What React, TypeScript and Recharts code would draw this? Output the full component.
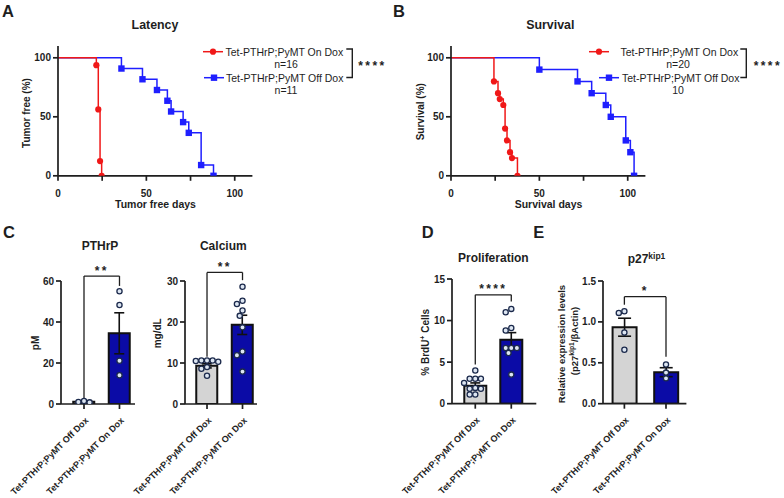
import React from 'react';
import {
  ComposedChart, LineChart, Line, Bar, Cell, Scatter, XAxis, YAxis, ErrorBar, ReferenceLine,
} from 'recharts';

const FONT = '"Liberation Sans", Arial, Helvetica, sans-serif';
const INK = '#1e1e1e';
const RED = '#f01818';
const BLUE = '#1f1fff';
const NAVY = '#0b0ba6';
const GRAY = '#d4d4d4';
const DOT_FILL = '#dde6f2';
const DOT_STROKE = '#1c2a4c';

// ---- A: Latency (% tumor free vs days) ----
const latencyOnDays = [0, 21.7, 22.8, 23.8, 24.7];
const latencyOnPct = [100, 93.75, 56.25, 12.5, 0];
const latencyOffDays = [0, 35.9, 47.8, 56, 61.9, 64, 70.8, 74, 81, 88];
const latencyOffPct = [100, 90.9, 81.8, 72.7, 63.6, 54.5, 45.5, 36.4, 9.1, 0];
const latencyN = ['n=16', 'n=11'];

// ---- B: Survival (% vs days) ----
const survivalOnDays = [0, 24.3, 26.6, 27.6, 29.6, 30.6, 31.7, 33.4, 34.5, 37.6];
const survivalOnPct = [100, 80, 70, 65, 60, 40, 30, 20, 15, 0];
const survivalOffDays = [0, 50, 71.6, 79.6, 87.6, 90.4, 98.9, 101.5, 103.6];
const survivalOffPct = [100, 90, 80, 70, 60, 50, 30, 20, 0];
const survivalN = ['n=20', '10'];

const kmSeries = ['Tet-PTHrP;PyMT On Dox', 'Tet-PTHrP;PyMT Off Dox'];
const kmXTicks = [0, 25, 50, 75, 100];
const kmYTicks = [0, 50, 100];

// ---- C, D, E: bar groups ----
const groups = ['Tet-PTHrP;PyMT Off Dox', 'Tet-PTHrP;PyMT On Dox'];

const pthrpMean = [1.1, 34.5];
const pthrpSem = [0.2, 10.0];
const pthrpOff = [0.8, 1.5, 1.0];
const pthrpOn = [55.0, 48.3, 21.1, 14.0];

const calciumMean = [9.3, 19.3];
const calciumSem = [0.5, 2.35];
const calciumOff = [10.6, 10.5, 10.6, 10.6, 10.3, 9.0, 8.6, 6.9];
const calciumOn = [28.6, 24.4, 25.2, 22.8, 21.5, 18.7, 12.8, 11.9, 7.9];

const brduMean = [2.15, 7.7];
const brduSem = [0.35, 0.85];
const brduOff = [4.0, 3.0, 3.0, 3.0, 2.5, 1.9, 1.8, 1.8, 1.1, 1.1];
const brduOn = [11.4, 11.0, 9.1, 8.8, 6.7, 6.7, 6.7, 6.1, 3.5];

const p27Mean = [0.935, 0.385];
const p27Sem = [0.11, 0.055];
const p27Off = [1.11, 1.13, 0.87, 0.66];
const p27On = [0.48, 0.38, 0.31];

type Box = { l: number; t: number; r: number; b: number };

function swarm(values: number[], pxPerUnit: number, d: number): number[] {
  const idx = values.map((_, i) => i).sort((a, b) => values[b] - values[a]);
  const placed: { x: number; y: number }[] = [];
  const out = values.map(() => 0);
  idx.forEach((i) => {
    const y = values[i] * pxPerUnit;
    for (let k = 0; k < 80; k++) {
      const step = Math.ceil(k / 2) * d * 0.5;
      const x = k === 0 ? 0 : k % 2 === 1 ? -step : step;
      if (placed.every((p) => Math.hypot(p.x - x, p.y - y) >= d - 0.01)) {
        placed.push({ x, y });
        out[i] = x;
        return;
      }
    }
  });
  return out;
}

const axisStyle = { stroke: INK, strokeWidth: 1.7 };

const CatTick = (p: any) => (
  <text
    transform={`translate(${p.x + 5},${p.y + 10}) rotate(-45)`}
    textAnchor="end"
    fontSize={9}
    fontWeight="bold"
    fontFamily={FONT}
    fill={INK}
  >
    {groups[Math.round(p.payload.value) - 1]}
  </text>
);

type BarPanelProps = {
  box: Box;
  xDomain: [number, number];
  yMax: number;
  yTicks: number[];
  decimals: number;
  means: number[];
  sems: number[];
  pts: number[][];
  barSize: number;
  cap: number;
  sig: string;
  br: { lb: number; rb: number; top: number };
};

function BarPanel(props: BarPanelProps) {
  const { box, xDomain, yMax, yTicks, decimals, means, sems, pts, barSize, cap, sig, br } = props;
  const YW = 64, MT = 30, MR = 8, XH = 94;
  const pw = box.r - box.l;
  const ph = box.b - box.t;
  const pxY = ph / yMax;
  const pxX = pw / (xDomain[1] - xDomain[0]);
  const barData = means.map((m, i) => ({ x: i + 1, mean: m, sem: sems[i] }));
  const dotData = pts.flatMap((vals, g) => {
    const off = swarm(vals, pxY, 5.6);
    return vals.map((v, j) => ({ x: g + 1 + off[j] / pxX, y: v }));
  });
  return (
    <div style={{ position: 'absolute', left: box.l - YW, top: box.t - MT }}>
      <ComposedChart
        width={YW + pw + MR}
        height={MT + ph + XH}
        data={barData}
        margin={{ top: MT, right: MR, left: 0, bottom: 0 }}
      >
        <XAxis
          xAxisId="cat"
          type="number"
          dataKey="x"
          domain={xDomain}
          allowDataOverflow
          ticks={[1, 2]}
          interval={0}
          tick={CatTick}
          tickSize={5}
          height={XH}
          axisLine={axisStyle}
          tickLine={axisStyle}
        />
        <XAxis xAxisId="dots" type="number" dataKey="x" domain={xDomain} allowDataOverflow hide />
        <YAxis
          type="number"
          domain={[0, yMax]}
          allowDataOverflow
          ticks={yTicks}
          interval={0}
          width={YW}
          tickSize={5}
          tickFormatter={(v: number) => v.toFixed(decimals)}
          tick={{ fontSize: 10, fontWeight: 'bold', fill: INK, fontFamily: FONT }}
          axisLine={axisStyle}
          tickLine={axisStyle}
        />
        <Bar xAxisId="cat" dataKey="mean" barSize={barSize} stroke="#111" strokeWidth={2} isAnimationActive={false}>
          {barData.map((_, i) => (
            <Cell key={i} fill={i === 0 ? GRAY : NAVY} />
          ))}
          <ErrorBar dataKey="sem" width={cap} stroke="#111" strokeWidth={1.6} direction="y" />
        </Bar>
        <Scatter
          xAxisId="dots"
          data={dotData}
          dataKey="y"
          isAnimationActive={false}
          shape={(p: any) => (
            <circle cx={p.cx} cy={p.cy} r={2.6} fill={DOT_FILL} stroke={DOT_STROKE} strokeWidth={1.3} />
          )}
        />
        <ReferenceLine xAxisId="cat" segment={[{ x: 1, y: br.lb }, { x: 1, y: br.top }]} stroke={INK} strokeWidth={1.3} ifOverflow="visible" />
        <ReferenceLine xAxisId="cat" segment={[{ x: 2, y: br.rb }, { x: 2, y: br.top }]} stroke={INK} strokeWidth={1.3} ifOverflow="visible" />
        <ReferenceLine
          xAxisId="cat"
          segment={[{ x: 1, y: br.top }, { x: 2, y: br.top }]}
          stroke={INK}
          strokeWidth={1.3}
          ifOverflow="visible"
          label={(p: any) => {
            const vb = p.viewBox || { x: 0, y: 0, width: 0 };
            return (
              <text
                x={vb.x + vb.width / 2}
                y={vb.y - 1.5}
                textAnchor="middle"
                fontSize={12}
                fontWeight="bold"
                fontFamily={FONT}
                fill={INK}
                letterSpacing={2.4}
              >
                {sig}
              </text>
            );
          }}
        />
      </ComposedChart>
    </div>
  );
}

const KMTick = (p: any) => {
  const v = p.payload.value;
  if (v % 50 !== 0) return <g />;
  return (
    <text x={p.x} y={p.y + 14} textAnchor="middle" fontSize={10} fontWeight="bold" fontFamily={FONT} fill={INK}>
      {v}
    </text>
  );
};

const redDot = (p: any) =>
  p.index === 0 ? <g key={`r${p.index}`} /> : <circle key={`r${p.index}`} cx={p.cx} cy={p.cy} r={3.1} fill={RED} />;
const blueDot = (p: any) =>
  p.index === 0 ? (
    <g key={`b${p.index}`} />
  ) : (
    <rect key={`b${p.index}`} x={p.cx - 3.2} y={p.cy - 3.2} width={6.4} height={6.4} fill={BLUE} />
  );

function KMPanel({ box, onX, onY, offX, offY }: { box: Box; onX: number[]; onY: number[]; offX: number[]; offY: number[] }) {
  const YW = 45, MT = 10, MR = 10, XH = 30;
  const pw = box.r - box.l;
  const ph = box.b - box.t;
  const onData = onX.map((x, i) => ({ x, y: onY[i] }));
  const offData = offX.map((x, i) => ({ x, y: offY[i] }));
  return (
    <div style={{ position: 'absolute', left: box.l - YW, top: box.t - MT }}>
      <LineChart width={YW + pw + MR} height={MT + ph + XH} margin={{ top: MT, right: MR, left: 0, bottom: 0 }}>
        <XAxis
          type="number"
          dataKey="x"
          domain={[0, 110]}
          allowDataOverflow
          ticks={kmXTicks}
          interval={0}
          tick={KMTick}
          tickSize={5}
          height={XH}
          axisLine={axisStyle}
          tickLine={axisStyle}
        />
        <YAxis
          type="number"
          domain={[0, 110]}
          allowDataOverflow
          ticks={kmYTicks}
          interval={0}
          width={YW}
          tickSize={5}
          tick={{ fontSize: 10, fontWeight: 'bold', fill: INK, fontFamily: FONT }}
          axisLine={axisStyle}
          tickLine={axisStyle}
        />
        <Line data={offData} dataKey="y" type="stepAfter" stroke={BLUE} strokeWidth={1.5} dot={blueDot} activeDot={false} isAnimationActive={false} />
        <Line data={onData} dataKey="y" type="stepAfter" stroke={RED} strokeWidth={1.5} dot={redDot} activeDot={false} isAnimationActive={false} />
      </LineChart>
    </div>
  );
}

function KMLegend({ x0, x1, names, ns, textX0, textX1, nX, brX, starX }: any) {
  return (
    <g>
      <line x1={x0} x2={x0 + 20} y1={51.7} y2={51.7} stroke={RED} strokeWidth={1.5} />
      <circle cx={x0 + 10} cy={51.7} r={3.1} fill={RED} />
      <text x={textX0} y={55.5} fontSize={10.5} fontFamily={FONT} fill={INK}>{names[0]}</text>
      <text x={nX} y={67.8} fontSize={10.5} fontFamily={FONT} fill={INK} textAnchor="middle">{ns[0]}</text>
      <line x1={x1} x2={x1 + 20} y1={77.7} y2={77.7} stroke={BLUE} strokeWidth={1.5} />
      <rect x={x1 + 10 - 3.2} y={77.7 - 3.2} width={6.4} height={6.4} fill={BLUE} />
      <text x={textX1} y={81.5} fontSize={10.5} fontFamily={FONT} fill={INK}>{names[1]}</text>
      <text x={nX} y={93.8} fontSize={10.5} fontFamily={FONT} fill={INK} textAnchor="middle">{ns[1]}</text>
      <path d={`M${brX - 6} 49 H${brX} V77.5 H${brX - 6}`} fill="none" stroke={INK} strokeWidth={1.4} />
      <text x={starX} y={70} fontSize={12} fontWeight="bold" fontFamily={FONT} fill={INK} letterSpacing={2.4}>****</text>
    </g>
  );
}

function Overlay() {
  const b = { fontFamily: FONT, fill: INK, fontWeight: 'bold' as const };
  return (
    <svg width={784} height={498} style={{ position: 'absolute', left: 0, top: 0, pointerEvents: 'none' }}>
      <text x={2} y={16.7} fontSize={16.5} {...b}>A</text>
      <text x={393} y={16.7} fontSize={16.5} {...b}>B</text>
      <text x={3} y={238.3} fontSize={16.5} {...b}>C</text>
      <text x={421.7} y={238.3} fontSize={16.5} {...b}>D</text>
      <text x={533.3} y={238.3} fontSize={16.5} {...b}>E</text>

      <text x={155} y={29} fontSize={12.4} textAnchor="middle" {...b}>Latency</text>
      <text x={550.3} y={29} fontSize={12.4} textAnchor="middle" {...b}>Survival</text>
      <text x={100} y={249.5} fontSize={12} textAnchor="middle" {...b}>PTHrP</text>
      <text x={223.3} y={249.5} fontSize={12} textAnchor="middle" {...b}>Calcium</text>
      <text x={493.3} y={262} fontSize={12} textAnchor="middle" {...b}>Proliferation</text>
      <text x={646.5} y={263} fontSize={12} textAnchor="middle" {...b}>
        p27<tspan fontSize={8.5} dy={-4.5}>kip1</tspan>
      </text>

      <text transform="translate(30,113) rotate(-90)" fontSize={10} textAnchor="middle" {...b}>Tumor free (%)</text>
      <text x={155.5} y={207.6} fontSize={10.5} textAnchor="middle" {...b}>Tumor free days</text>
      <text transform="translate(423.5,111.7) rotate(-90)" fontSize={10} textAnchor="middle" {...b}>Survival (%)</text>
      <text x={548.5} y={207.6} fontSize={10.5} textAnchor="middle" {...b}>Survival days</text>
      <text transform="translate(38.8,343) rotate(-90)" fontSize={10} textAnchor="middle" {...b}>pM</text>
      <text transform="translate(161,333.3) rotate(-90)" fontSize={10} textAnchor="middle" {...b}>mg/dL</text>
      <text transform="translate(429,342.3) rotate(-90)" fontSize={10} textAnchor="middle" {...b}>
        % BrdU<tspan fontSize={7} dy={-4}>+</tspan><tspan dy={4}> Cells</tspan>
      </text>
      <text transform="translate(564.5,344) rotate(-90)" fontSize={9.5} textAnchor="middle" {...b}>Relative expression levels</text>
      <text transform="translate(578,341) rotate(-90)" fontSize={9.5} textAnchor="middle" {...b}>
        (p27<tspan fontSize={6.8} dy={-3.6}>kip1</tspan><tspan dy={3.6}>/βActin)</tspan>
      </text>

      <KMLegend x0={203} x1={204} names={kmSeries} ns={latencyN} textX0={225.5} textX1={226} nX={286} brX={352.3} starX={358.3} />
      <KMLegend x0={589} x1={599} names={kmSeries} ns={survivalN} textX0={620.5} textX1={622} nX={678} brX={746.3} starX={753.7} />
    </svg>
  );
}

export default function App() {
  return (
    <div style={{ position: 'absolute', left: 0, top: 0, width: 784, height: 498, background: '#fff', overflow: 'hidden', fontFamily: FONT }}>
      <KMPanel box={{ l: 58.3, t: 45.9, r: 252.7, b: 175.7 }} onX={latencyOnDays} onY={latencyOnPct} offX={latencyOffDays} offY={latencyOffPct} />
      <KMPanel box={{ l: 451.3, t: 45.9, r: 645.7, b: 175.7 }} onX={survivalOnDays} onY={survivalOnPct} offX={survivalOffDays} offY={survivalOffPct} />
      <BarPanel
        box={{ l: 61, t: 281, r: 135, b: 404 }}
        xDomain={[0.352, 2.437]}
        yMax={60}
        yTicks={[0, 20, 40, 60]}
        decimals={0}
        means={pthrpMean}
        sems={pthrpSem}
        pts={[pthrpOff, pthrpOn]}
        barSize={21}
        cap={5}
        sig="**"
        br={{ lb: 1.8, rb: 57.6, top: 62.4 }}
      />
      <BarPanel
        box={{ l: 185, t: 281, r: 257, b: 404 }}
        xDomain={[0.38, 2.408]}
        yMax={30}
        yTicks={[0, 10, 20, 30]}
        decimals={0}
        means={calciumMean}
        sems={calciumSem}
        pts={[calciumOff, calciumOn]}
        barSize={21}
        cap={5}
        sig="**"
        br={{ lb: 11.5, rb: 30.2, top: 32.1 }}
      />
      <BarPanel
        box={{ l: 451.7, t: 279.3, r: 536, b: 404 }}
        xDomain={[0.353, 2.695]}
        yMax={15}
        yTicks={[0, 5, 10, 15]}
        decimals={0}
        means={brduMean}
        sems={brduSem}
        pts={[brduOff, brduOn]}
        barSize={22}
        cap={5}
        sig="****"
        br={{ lb: 4.7, rb: 12.3, top: 13.1 }}
      />
      <BarPanel
        box={{ l: 603.3, t: 281, r: 686.7, b: 403.7 }}
        xDomain={[0.486, 2.49]}
        yMax={1.5}
        yTicks={[0, 0.5, 1.0, 1.5]}
        decimals={1}
        means={p27Mean}
        sems={p27Sem}
        pts={[p27Off, p27On]}
        barSize={24}
        cap={6.5}
        sig="*"
        br={{ lb: 1.21, rb: 0.575, top: 1.308 }}
      />
      <Overlay />
    </div>
  );
}
